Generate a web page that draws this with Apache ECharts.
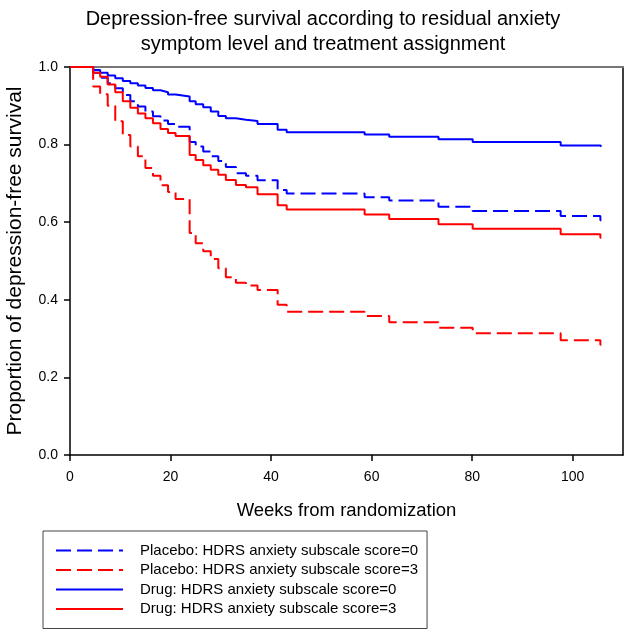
<!DOCTYPE html>
<html>
<head>
<meta charset="utf-8">
<script src="https://cdn.jsdelivr.net/npm/echarts@6/dist/echarts.min.js"></script>
<style>html,body{margin:0;padding:0;background:#fff}#c{width:629px;height:633px}</style>
</head>
<body>
<div id="c"></div>
<script>
// Shared event times (weeks)
var weeks = [0, 4.6, 6, 7.5, 9, 10.5, 12, 13.5, 15, 16.5, 18, 19.5, 21, 23.8, 25, 26.5, 28, 29.5, 31, 33, 35, 37.3, 41.3, 43.1, 58.6, 63.5, 73.3, 80.1, 97.6, 105.5, 105.7];
var placeboScore0 = [1.0, 0.985, 0.972, 0.958, 0.945, 0.928, 0.912, 0.898, 0.885, 0.873, 0.862, 0.853, 0.846, 0.807, 0.795, 0.782, 0.770, 0.758, 0.742, 0.726, 0.720, 0.708, 0.683, 0.674, 0.664, 0.656, 0.640, 0.629, 0.616, 0.605, 0.605];
var placeboScore3 = [1.0, 0.950, 0.930, 0.900, 0.860, 0.825, 0.795, 0.770, 0.740, 0.720, 0.695, 0.678, 0.660, 0.572, 0.546, 0.525, 0.505, 0.481, 0.458, 0.444, 0.437, 0.425, 0.387, 0.369, 0.358, 0.342, 0.328, 0.314, 0.296, 0.284, 0.284];
var drugScore0 = [1.0, 0.992, 0.985, 0.978, 0.971, 0.964, 0.958, 0.952, 0.946, 0.940, 0.935, 0.929, 0.924, 0.912, 0.904, 0.896, 0.885, 0.874, 0.868, 0.864, 0.861, 0.853, 0.838, 0.832, 0.826, 0.820, 0.814, 0.807, 0.798, 0.795, 0.795];
var drugScore3 = [1.0, 0.985, 0.975, 0.955, 0.935, 0.912, 0.895, 0.880, 0.868, 0.855, 0.840, 0.830, 0.822, 0.773, 0.760, 0.747, 0.735, 0.722, 0.709, 0.696, 0.690, 0.672, 0.644, 0.633, 0.620, 0.608, 0.595, 0.583, 0.569, 0.560, 0.560];
var seriesNames = ['Placebo: HDRS anxiety subscale score=0', 'Placebo: HDRS anxiety subscale score=3', 'Drug: HDRS anxiety subscale score=0', 'Drug: HDRS anxiety subscale score=3'];
var xTicks = [0, 20, 40, 60, 80, 100];

function pairs(vals) { return weeks.map(function (w, i) { return [w, vals[i]]; }); }
var FONT = 'Liberation Sans, Arial, Helvetica, sans-serif';
var chart = echarts.init(document.getElementById('c'), null, {renderer: 'canvas'});
function mk(name, vals, color, dashed) {
  return {
    name: name, type: 'line', step: 'end', showSymbol: false, symbol: 'none',
    data: pairs(vals), xAxisIndex: 0, yAxisIndex: 0,
    lineStyle: {color: color, width: 2, type: dashed ? [15, 6] : 'solid'},
    itemStyle: {color: color}, animation: false, z: 3
  };
}
chart.setOption({
  animation: false,
  title: {
    text: 'Depression-free survival according to residual anxiety\nsymptom level and treatment assignment',
    left: 318, top: 2, textAlign: 'center',
    textStyle: {fontFamily: FONT, fontSize: 20, fontWeight: 'normal', color: '#000', lineHeight: 25}
  },
  grid: {left: 70, right: 6, top: 67, bottom: 178, containLabel: false, outerBoundsMode: 'none'},
  legend: {
    orient: 'vertical', left: 43, top: 531,
    data: seriesNames,
    itemWidth: 67, itemHeight: 14, itemGap: 4.5,
    padding: [12, 9, 12, 12],
    borderColor: '#444', borderWidth: 1, borderRadius: 0,
    itemStyle: {opacity: 0},
    textStyle: {fontFamily: FONT, fontSize: 15, color: '#000', padding: [0, 0, 0, 12]},
    selectedMode: false
  },
  xAxis: [{
    type: 'value', min: 0, max: 110, interval: 20,
    name: 'Weeks from randomization', nameLocation: 'middle', nameGap: 46,
    nameTextStyle: {fontFamily: FONT, fontSize: 18.5, color: '#000'},
    axisLine: {show: true, onZero: false, lineStyle: {color: '#000', width: 1.5}},
    axisTick: {show: true, length: 6, customValues: xTicks, lineStyle: {color: '#000', width: 1.5}},
    axisLabel: {customValues: xTicks, margin: 15, fontFamily: FONT, fontSize: 14, color: '#000'},
    splitLine: {show: false}
  }, {
    type: 'value', min: 0, max: 110, position: 'top',
    axisLine: {show: true, onZero: false, lineStyle: {color: '#777', width: 2}},
    axisTick: {show: false}, axisLabel: {show: false}, splitLine: {show: false}
  }],
  yAxis: [{
    type: 'value', min: 0, max: 1, interval: 0.2,
    name: 'Proportion of depression-free survival', nameLocation: 'middle', nameGap: 44,
    nameTextStyle: {fontFamily: FONT, fontSize: 21, color: '#000'},
    axisLine: {show: true, onZero: false, lineStyle: {color: '#000', width: 1.5}},
    axisTick: {show: true, length: 6, lineStyle: {color: '#000', width: 1.5}},
    axisLabel: {margin: 12, fontFamily: FONT, fontSize: 14, color: '#000',
      formatter: function (v) { return v.toFixed(1); }},
    splitLine: {show: false}
  }, {
    type: 'value', min: 0, max: 1, position: 'right',
    axisLine: {show: true, onZero: false, lineStyle: {color: '#000', width: 1.5}},
    axisTick: {show: false}, axisLabel: {show: false}, splitLine: {show: false}
  }],
  series: [
    mk(seriesNames[0], placeboScore0, '#0000ff', true),
    mk(seriesNames[1], placeboScore3, '#ff0000', true),
    mk(seriesNames[2], drugScore0, '#0000ff', false),
    mk(seriesNames[3], drugScore3, '#ff0000', false)
  ]
});
</script>
</body>
</html>
